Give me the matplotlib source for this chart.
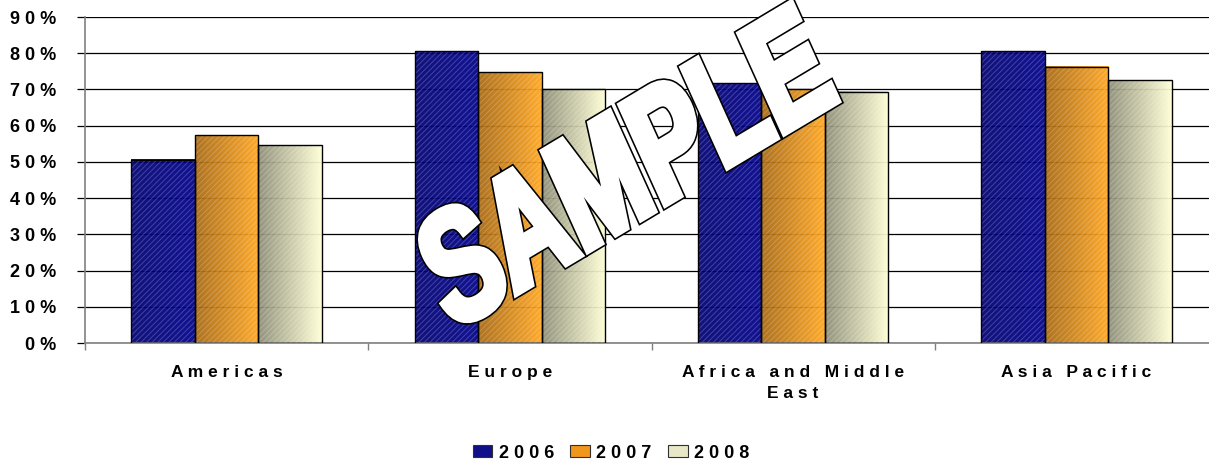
import numpy as np
import matplotlib
matplotlib.use('Agg')
import matplotlib.pyplot as plt
import matplotlib.patheffects as pe
from matplotlib.colors import LinearSegmentedColormap
from matplotlib.patches import Patch, PathPatch
from matplotlib.textpath import TextPath
from matplotlib.font_manager import FontProperties
from matplotlib.transforms import Affine2D
from matplotlib.ticker import FuncFormatter

# data
regions = ['Americas', 'Europe', 'Africa and Middle East', 'Asia Pacific']
years = ['2006', '2007', '2008']
share_2006 = [50.6, 80.5, 71.7, 80.5]
share_2007 = [57.3, 74.8, 70.1, 76.2]
share_2008 = [54.6, 70.1, 69.3, 72.5]

# left/right colour of the gradient fill for each series, hatch tone
fills = [('#000070', '#000088'), ('#a86810', '#ffa41c'), ('#8c8c74', '#ffffd4')]
hatch_tones = [(0.45, 0.45, 0.8, 0.5), (1, 1, 1, 0.2), (1, 1, 1, 0.22)]
legend_colors = ['#10108a', '#f0961c', '#e8e8c8']


def spaced(s):
    # Excel-style letter spacing
    return ' '.join(s)


plt.rcParams['font.family'] = ['Liberation Sans', 'DejaVu Sans']
plt.rcParams['font.weight'] = 'bold'
plt.rcParams['hatch.linewidth'] = 0.7

fig = plt.figure(figsize=(12.09, 4.66), dpi=100)
ax = fig.add_axes([85 / 1209, 123 / 466, 1133 / 1209, 326 / 466])

series = [share_2006, share_2007, share_2008]
x = np.arange(len(regions))
bar_w = 0.224

for i, vals in enumerate(series):
    offs = (i - 1) * bar_w
    bars = ax.bar(x + offs, vals, width=bar_w, facecolor='none',
                  edgecolor='black', linewidth=1.0, zorder=4)
    cmap = LinearSegmentedColormap.from_list('g%d' % i, fills[i])
    grad = np.linspace(0, 1, 64).reshape(1, -1)
    for b in bars:
        x0, w, h = b.get_x(), b.get_width(), b.get_height()
        ax.imshow(grad, cmap=cmap, extent=[x0, x0 + w, 0, h],
                  aspect='auto', alpha=0.93, zorder=2, interpolation='bilinear')
        ax.bar(x0 + w / 2, h, width=w, facecolor='none', linewidth=0,
               edgecolor=hatch_tones[i], hatch='//////', zorder=3)

ax.set_xlim(-0.5, len(regions) - 0.5)
ax.set_ylim(0, 90)
ax.set_yticks(np.arange(0, 91, 10))
ax.yaxis.set_major_formatter(FuncFormatter(lambda v, p: spaced('%d%%' % v)))
ax.yaxis.grid(True, color='black', linewidth=0.9, zorder=1)
ax.set_axisbelow(True)
ax.tick_params(axis='y', length=6, width=0.9, color='black', labelsize=13, pad=15)

ax.set_xticks(x)
ax.set_xticklabels([spaced('Americas'), spaced('Europe'),
                    spaced('Africa and Middle') + '\n' + spaced('East'),
                    spaced('Asia Pacific')], fontsize=12.5, linespacing=1.45)
ax.tick_params(axis='x', length=0, pad=16)
ax.set_xticks(np.arange(-0.5, len(regions), 1.0), minor=True)
ax.tick_params(axis='x', which='minor', length=5, width=1, color='#808080')

for side in ['top', 'right']:
    ax.spines[side].set_visible(False)
for side in ['left', 'bottom']:
    ax.spines[side].set_color('#808080')
    ax.spines[side].set_linewidth(1.2)

handles = [Patch(facecolor=legend_colors[i], edgecolor='#303030', linewidth=0.8)
           for i in range(3)]
fig.legend(handles, [spaced(y) for y in years], loc='center',
           bbox_to_anchor=(611 / 1209, 1 - 453 / 466), ncol=3, frameon=False,
           fontsize=13, handlelength=1.1, handleheight=0.65, handletextpad=0.35,
           columnspacing=0.9)

# SAMPLE watermark (WordArt style, stretched, rotated and fattened)
tp = TextPath((0, 0), 'SAMPLE', size=100,
              prop=FontProperties(family='Liberation Sans', weight='bold'))
bb = tp.get_extents()
cx, cy = (bb.x0 + bb.x1) / 2, (bb.y0 + bb.y1) / 2
tr = (Affine2D().translate(-cx, -cy).scale(1.05, 1.4).rotate_deg(27.5)
      .scale(1, 1.15).translate(624, 466 - 166))
fig.add_artist(PathPatch(tp, transform=tr, facecolor='white', edgecolor='white',
                         linewidth=5.5, zorder=10,
                         path_effects=[pe.Stroke(linewidth=7.8, foreground='black'),
                                       pe.Normal()]))

fig.savefig('out.png', dpi=100)
